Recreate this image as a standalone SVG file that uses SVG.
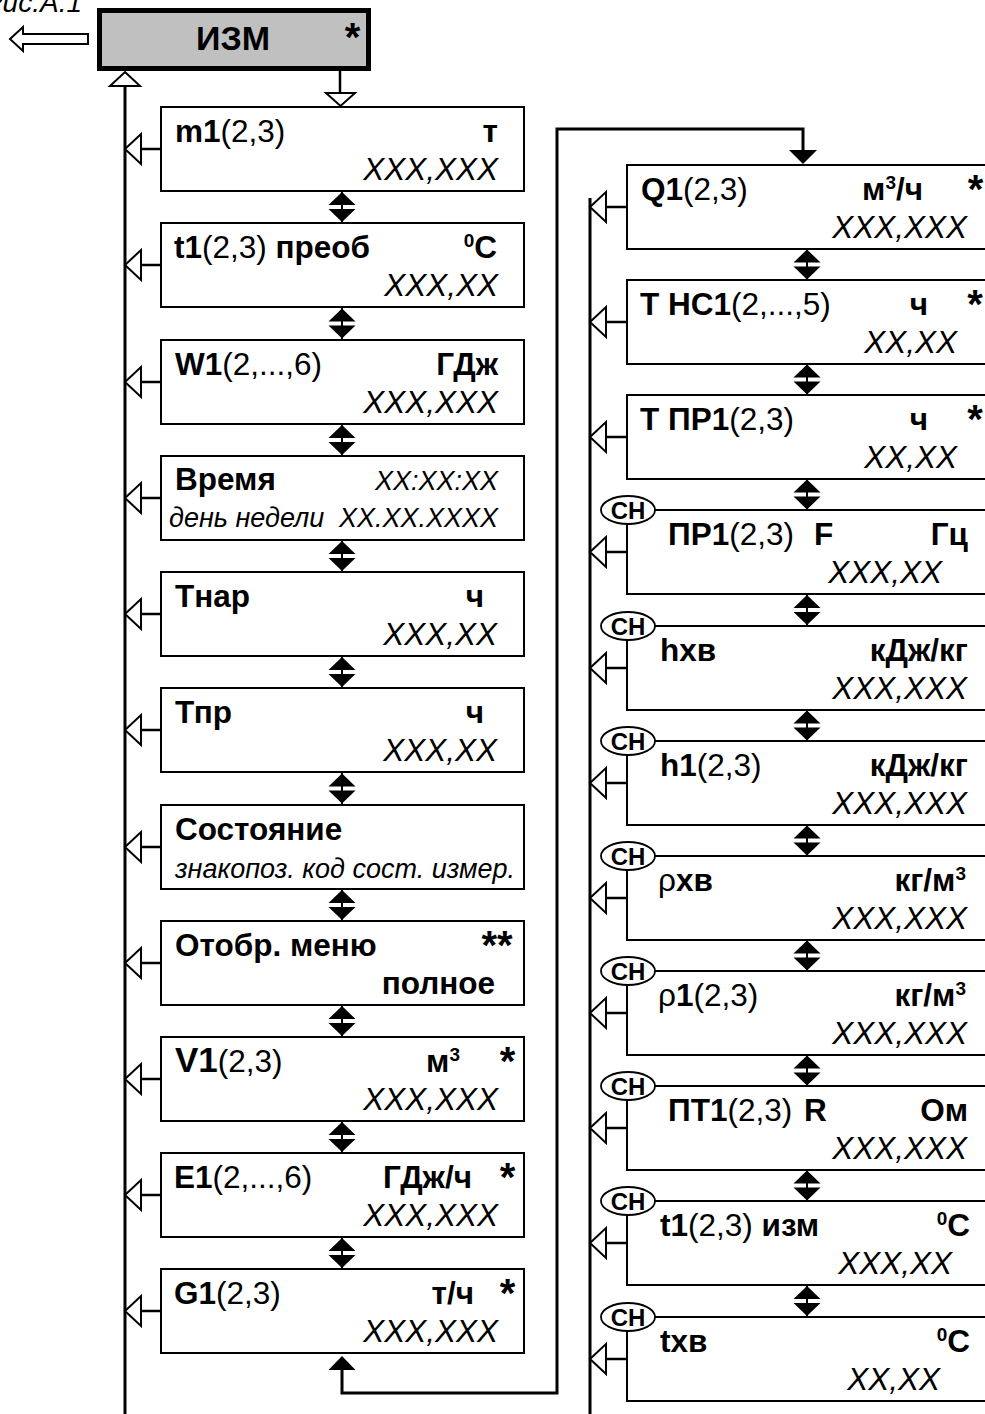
<svg xmlns="http://www.w3.org/2000/svg" xmlns:xlink="http://www.w3.org/1999/xlink" width="985" height="1414" viewBox="0 0 985 1414">
<style>
text{font-family:"Liberation Sans",Arial,sans-serif;fill:#000}
.b{font-weight:bold;font-size:31.5px}
.r{font-weight:normal}
.v{font-style:italic;font-size:31.5px}
.s{font-style:italic;font-size:27px}
.sup{font-size:19px}
.st{font-weight:bold;font-size:40px}
.ch{font-weight:bold;font-size:24px}
.box{fill:#fff;stroke:#000;stroke-width:2}
.ln{fill:none;stroke:#000;stroke-width:3}
.hol{fill:#fff;stroke:#000;stroke-width:2}
.ov{fill:#fff;stroke:#000;stroke-width:1.8}
</style>
<defs>
<g id="dbl">
<line x1="0" y1="-16" x2="0" y2="16" stroke="#000" stroke-width="2"/>
<polygon points="0,-15 13.5,-2 -13.5,-2" fill="#000"/>
<polygon points="-13.5,2 13.5,2 0,15" fill="#000"/>
</g>
<g id="la">
<line x1="16" y1="0" x2="37" y2="0" stroke="#000" stroke-width="2.5"/>
<polygon points="0,0 16,-15 16,15" class="hol"/>
</g>
</defs>
<rect width="985" height="1414" fill="#fff"/>

<text x="82" y="12" text-anchor="end" style="font-style:italic;font-size:28px">Рис.А.1</text>

<g id="connectors">
<polygon points="10,39 23,27 23,34 88,34 88,44 23,44 23,51" class="hol" stroke-width="1.8"/>
<line x1="125" y1="85" x2="125" y2="1414" class="ln"/>
<polygon points="125,72 140,86 110,86" class="hol"/>
<line x1="340" y1="71" x2="340" y2="93" stroke="#000" stroke-width="2.5"/>
<polygon points="326,93 355,93 340.5,106" class="hol"/>
<line x1="590" y1="198" x2="590" y2="1414" class="ln"/>
<path d="M342,1368 V1393 H557 V129 H803 V152" class="ln"/>
<polygon points="342,1356 328.5,1370 355.5,1370" fill="#000"/>
<polygon points="789,150 817,150 803,164" fill="#000"/>
<use xlink:href="#la" x="125" y="149"/>
<use xlink:href="#la" x="125" y="265"/>
<use xlink:href="#la" x="125" y="382"/>
<use xlink:href="#la" x="125" y="498"/>
<use xlink:href="#la" x="125" y="614"/>
<use xlink:href="#la" x="125" y="730"/>
<use xlink:href="#la" x="125" y="847"/>
<use xlink:href="#la" x="125" y="963"/>
<use xlink:href="#la" x="125" y="1079"/>
<use xlink:href="#la" x="125" y="1195"/>
<use xlink:href="#la" x="125" y="1311"/>
<use xlink:href="#la" x="590" y="207"/>
<use xlink:href="#la" x="590" y="322"/>
<use xlink:href="#la" x="590" y="437"/>
<use xlink:href="#la" x="590" y="552"/>
<use xlink:href="#la" x="590" y="668"/>
<use xlink:href="#la" x="590" y="783"/>
<use xlink:href="#la" x="590" y="898"/>
<use xlink:href="#la" x="590" y="1013"/>
<use xlink:href="#la" x="590" y="1128"/>
<use xlink:href="#la" x="590" y="1243"/>
<use xlink:href="#la" x="590" y="1359"/>
<use xlink:href="#dbl" x="342" y="207"/>
<use xlink:href="#dbl" x="342" y="323.5"/>
<use xlink:href="#dbl" x="342" y="440"/>
<use xlink:href="#dbl" x="342" y="556"/>
<use xlink:href="#dbl" x="342" y="672"/>
<use xlink:href="#dbl" x="342" y="788.5"/>
<use xlink:href="#dbl" x="342" y="905"/>
<use xlink:href="#dbl" x="342" y="1021"/>
<use xlink:href="#dbl" x="342" y="1137"/>
<use xlink:href="#dbl" x="342" y="1253"/>
<use xlink:href="#dbl" x="807" y="264.5"/>
<use xlink:href="#dbl" x="807" y="379.5"/>
<use xlink:href="#dbl" x="807" y="494.5"/>
<use xlink:href="#dbl" x="807" y="610"/>
<use xlink:href="#dbl" x="807" y="725.5"/>
<use xlink:href="#dbl" x="807" y="840.5"/>
<use xlink:href="#dbl" x="807" y="955.5"/>
<use xlink:href="#dbl" x="807" y="1070.5"/>
<use xlink:href="#dbl" x="807" y="1185.5"/>
<use xlink:href="#dbl" x="807" y="1301"/>
</g>

<g id="node-izm">
<rect x="99.5" y="10.5" width="269" height="58" fill="#c0c0c0" stroke="#000" stroke-width="5"/>
<text x="233" y="50" text-anchor="middle" style="font-weight:bold;font-size:34px">ИЗМ</text>
<text x="352.5" y="51" class="st" text-anchor="middle">*</text>
</g>

<g id="node-m1">
<rect x="161" y="107" width="363" height="84" class="box"/>
<text x="175" y="142" class="b">m1<tspan class="r">(2,3)</tspan></text>
<text x="498" y="142" class="b" text-anchor="end">т</text>
<text x="498" y="180" class="v" text-anchor="end">XXX,XXX</text>
</g>

<g id="node-t1p">
<rect x="161" y="223" width="363" height="84" class="box"/>
<text x="174" y="258" class="b">t1<tspan class="r">(2,3)</tspan> преоб</text>
<text x="497" y="258" class="b" text-anchor="end"><tspan class="sup" dy="-11">0</tspan><tspan dy="11">С</tspan></text>
<text x="498" y="296" class="v" text-anchor="end">XXX,XX</text>
</g>

<g id="node-w1">
<rect x="161" y="340" width="363" height="84" class="box"/>
<text x="175" y="375" class="b">W1<tspan class="r">(2,...,6)</tspan></text>
<text x="498" y="375" class="b" text-anchor="end">ГДж</text>
<text x="498" y="413" class="v" text-anchor="end">XXX,XXX</text>
</g>

<g id="node-time">
<rect x="161" y="456" width="363" height="84" class="box"/>
<text x="175" y="490" class="b">Время</text>
<text x="498" y="490" class="s" text-anchor="end">XX:XX:XX</text>
<text x="169" y="527" class="s">день недели</text>
<text x="498" y="527" class="s" text-anchor="end">XX.XX.XXXX</text>
</g>

<g id="node-tnar">
<rect x="161" y="572" width="363" height="84" class="box"/>
<text x="175" y="607" class="b">Тнар</text>
<text x="484" y="607" class="b" text-anchor="end">ч</text>
<text x="497" y="645" class="v" text-anchor="end">XXX,XX</text>
</g>

<g id="node-tpr">
<rect x="161" y="688" width="363" height="84" class="box"/>
<text x="175" y="723" class="b">Тпр</text>
<text x="484" y="723" class="b" text-anchor="end">ч</text>
<text x="497" y="761" class="v" text-anchor="end">XXX,XX</text>
</g>

<g id="node-state">
<rect x="161" y="805" width="363" height="84" class="box"/>
<text x="175" y="840" class="b">Состояние</text>
<text x="175" y="878" class="s">знакопоз. код сост. измер.</text>
</g>

<g id="node-menu">
<rect x="161" y="921" width="363" height="84" class="box"/>
<text x="175" y="956" class="b">Отобр. меню</text>
<text x="497" y="959" class="st" text-anchor="middle">**</text>
<text x="495" y="994" class="b" text-anchor="end">полное</text>
</g>

<g id="node-v1">
<rect x="161" y="1037" width="363" height="84" class="box"/>
<text x="175" y="1072" class="b"><tspan style="font-size:35px">V1</tspan><tspan class="r">(2,3)</tspan></text>
<text x="460" y="1072" class="b" text-anchor="end">м<tspan class="sup" dy="-11">3</tspan></text>
<text x="507.5" y="1075" class="st" text-anchor="middle">*</text>
<text x="498" y="1110" class="v" text-anchor="end">XXX,XXX</text>
</g>

<g id="node-e1">
<rect x="161" y="1153" width="363" height="84" class="box"/>
<text x="174" y="1188" class="b">E1<tspan class="r">(2,...,6)</tspan></text>
<text x="472" y="1188" class="b" text-anchor="end">ГДж/ч</text>
<text x="507.5" y="1191" class="st" text-anchor="middle">*</text>
<text x="498" y="1226" class="v" text-anchor="end">XXX,XXX</text>
</g>

<g id="node-g1">
<rect x="161" y="1269" width="363" height="84" class="box"/>
<text x="174" y="1304" class="b">G1<tspan class="r">(2,3)</tspan></text>
<text x="474" y="1304" class="b" text-anchor="end">т/ч</text>
<text x="507.5" y="1307" class="st" text-anchor="middle">*</text>
<text x="498" y="1342" class="v" text-anchor="end">XXX,XXX</text>
</g>

<g id="node-q1">
<rect x="627" y="165" width="400" height="84" class="box"/>
<text x="641" y="200" class="b">Q1<tspan class="r">(2,3)</tspan></text>
<text x="923" y="200" class="b" text-anchor="end">м<tspan class="sup" dy="-11">3</tspan><tspan dy="11">/ч</tspan></text>
<text x="975.5" y="203" class="st" text-anchor="middle">*</text>
<text x="967" y="238" class="v" text-anchor="end">XXX,XXX</text>
</g>

<g id="node-tns1">
<rect x="627" y="280" width="400" height="84" class="box"/>
<text x="640" y="315" class="b">Т НС1<tspan class="r">(2,...,5)</tspan></text>
<text x="928" y="315" class="b" text-anchor="end">ч</text>
<text x="975" y="318" class="st" text-anchor="middle">*</text>
<text x="957" y="353" class="v" text-anchor="end">XX,XX</text>
</g>

<g id="node-tpr1">
<rect x="627" y="395" width="400" height="84" class="box"/>
<text x="640" y="430" class="b">Т ПР1<tspan class="r">(2,3)</tspan></text>
<text x="928" y="430" class="b" text-anchor="end">ч</text>
<text x="975" y="433" class="st" text-anchor="middle">*</text>
<text x="957" y="468" class="v" text-anchor="end">XX,XX</text>
</g>

<g id="node-pr1">
<rect x="627" y="510" width="400" height="84" class="box"/>
<ellipse cx="628" cy="510" rx="27" ry="14" class="ov"/>
<text x="628" y="518.5" class="ch" text-anchor="middle">СН</text>
<text x="668" y="545" class="b">ПР1<tspan class="r">(2,3)</tspan></text>
<text x="814" y="545" class="b">F</text>
<text x="968" y="545" class="b" text-anchor="end">Гц</text>
<text x="942" y="583" class="v" text-anchor="end">XXX,XX</text>
</g>

<g id="node-hxv">
<rect x="627" y="626" width="400" height="84" class="box"/>
<ellipse cx="628" cy="626" rx="27" ry="14" class="ov"/>
<text x="628" y="634.5" class="ch" text-anchor="middle">СН</text>
<text x="660" y="661" class="b">hхв</text>
<text x="968" y="661" class="b" text-anchor="end">кДж/кг</text>
<text x="967" y="699" class="v" text-anchor="end">XXX,XXX</text>
</g>

<g id="node-h1">
<rect x="627" y="741" width="400" height="84" class="box"/>
<ellipse cx="628" cy="741" rx="27" ry="14" class="ov"/>
<text x="628" y="749.5" class="ch" text-anchor="middle">СН</text>
<text x="660" y="776" class="b">h1<tspan class="r">(2,3)</tspan></text>
<text x="968" y="776" class="b" text-anchor="end">кДж/кг</text>
<text x="967" y="814" class="v" text-anchor="end">XXX,XXX</text>
</g>

<g id="node-rhoxv">
<rect x="627" y="856" width="400" height="84" class="box"/>
<ellipse cx="628" cy="856" rx="27" ry="14" class="ov"/>
<text x="628" y="864.5" class="ch" text-anchor="middle">СН</text>
<text x="658" y="891" class="b"><tspan class="r">ρ</tspan>хв</text>
<text x="966" y="891" class="b" text-anchor="end">кг/м<tspan class="sup" dy="-11">3</tspan></text>
<text x="967" y="929" class="v" text-anchor="end">XXX,XXX</text>
</g>

<g id="node-rho1">
<rect x="627" y="971" width="400" height="84" class="box"/>
<ellipse cx="628" cy="971" rx="27" ry="14" class="ov"/>
<text x="628" y="979.5" class="ch" text-anchor="middle">СН</text>
<text x="658" y="1006" class="b"><tspan class="r">ρ</tspan>1<tspan class="r">(2,3)</tspan></text>
<text x="966" y="1006" class="b" text-anchor="end">кг/м<tspan class="sup" dy="-11">3</tspan></text>
<text x="967" y="1044" class="v" text-anchor="end">XXX,XXX</text>
</g>

<g id="node-pt1">
<rect x="627" y="1086" width="400" height="84" class="box"/>
<ellipse cx="628" cy="1086" rx="27" ry="14" class="ov"/>
<text x="628" y="1094.5" class="ch" text-anchor="middle">СН</text>
<text x="668" y="1121" class="b">ПТ1<tspan class="r">(2,3)</tspan></text>
<text x="804" y="1121" class="b">R</text>
<text x="968" y="1121" class="b" text-anchor="end">Ом</text>
<text x="967" y="1159" class="v" text-anchor="end">XXX,XXX</text>
</g>

<g id="node-t1izm">
<rect x="627" y="1201" width="400" height="84" class="box"/>
<ellipse cx="628" cy="1201" rx="27" ry="14" class="ov"/>
<text x="628" y="1209.5" class="ch" text-anchor="middle">СН</text>
<text x="660" y="1236" class="b">t1<tspan class="r">(2,3)</tspan> изм</text>
<text x="970" y="1236" class="b" text-anchor="end"><tspan class="sup" dy="-11">0</tspan><tspan dy="11">С</tspan></text>
<text x="952" y="1274" class="v" text-anchor="end">XXX,XX</text>
</g>

<g id="node-txv">
<rect x="627" y="1317" width="400" height="84" class="box"/>
<ellipse cx="628" cy="1317" rx="27" ry="14" class="ov"/>
<text x="628" y="1325.5" class="ch" text-anchor="middle">СН</text>
<text x="660" y="1352" class="b">tхв</text>
<text x="970" y="1352" class="b" text-anchor="end"><tspan class="sup" dy="-11">0</tspan><tspan dy="11">С</tspan></text>
<text x="940" y="1390" class="v" text-anchor="end">XX,XX</text>
</g>
</svg>
